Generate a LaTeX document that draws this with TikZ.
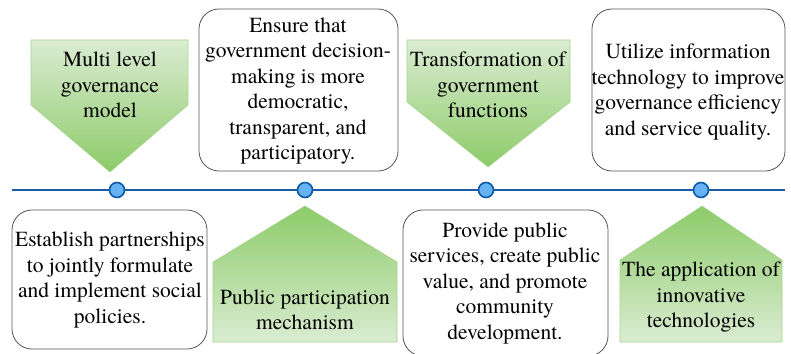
\documentclass[tikz,border=0pt]{standalone}
\usepackage{fontspec}
\IfFontExistsTF{texgyretermes-regular.otf}{\newfontfamily\tnr{texgyretermes-regular.otf}}{\newfontfamily\tnr{Liberation Serif}}
\definecolor{lineblue}{HTML}{1B5CA8}
\definecolor{dotfill}{HTML}{66B2F2}
\definecolor{dotdraw}{HTML}{0E5AA8}
\definecolor{gLight}{HTML}{DAECD2}
\definecolor{gDark}{HTML}{8DCB69}
\definecolor{gEdge}{HTML}{A9D38F}
\definecolor{boxedge}{HTML}{555555}
\begin{document}
\begin{tikzpicture}[x=1pt,y=1pt,
  txt/.style={align=center,inner sep=0pt,font=\tnr\fontsize{21.5}{25.5}\selectfont},
  rbox/.style={draw=boxedge,line width=0.8pt,rounded corners=20pt,fill=white},
  downarrow/.style={top color=gLight,bottom color=gDark,draw=gEdge,line width=0.6pt},
  uparrow/.style={top color=gDark,bottom color=gLight,draw=gEdge,line width=0.6pt},
  dot/.style={circle,draw=dotdraw,fill=dotfill,line width=1.6pt,minimum size=15pt,inner sep=0pt},
  tline/.style={draw=lineblue,line width=2.4pt}]
\useasboundingbox (0,0) rectangle (791,-353);
% top boxes
\draw[rbox] (199,-9) rectangle (398,-171);
\draw[rbox] (592,-9) rectangle (785,-171);
% bottom boxes
\draw[rbox] (12,-210) rectangle (207,-349);
\draw[rbox] (403,-210) rectangle (608,-356);
% down arrows
\path[downarrow] (31,-40) -- (188,-40) -- (188,-105) -- (110,-172) -- (31,-105) -- cycle;
\path[downarrow] (407,-40) -- (570,-40) -- (570,-102) -- (488,-167) -- (407,-102) -- cycle;
% up arrows
\path[uparrow] (305,-206) -- (397,-262) -- (397,-342) -- (213,-342) -- (213,-262) -- cycle;
\path[uparrow] (702,-206) -- (782,-260) -- (782,-342) -- (620,-342) -- (620,-260) -- cycle;
% texts
\node[txt] (t1) at (110,-85) {Multi level\\governance\\model};
\node[txt] (t2) at (298,-91) {Ensure that\\government decision-\\making is more\\democratic,\\transparent, and\\participatory.};
\node[txt] (t3) at (488,-85) {Transformation of\\government\\functions};
\node[txt] (t4) at (688,-92) {Utilize information\\technology to improve\\governance efficiency\\and service quality.};
\node[txt] (b1) at (110,-280) {Establish partnerships\\to jointly formulate\\and implement social\\policies.};
\node[txt] (b2) at (305,-310) {Public participation\\mechanism};
\node[txt] (b3) at (505,-283) {Provide public\\services, create public\\value, and promote\\community\\development.};
\node[txt] (b4) at (701,-297) {The application of\\innovative\\technologies};
% timeline
\coordinate (L) at (12,-190);
\coordinate (R) at (785,-190);
\draw[tline] (L) -- (R);
\node[dot] (c1) at (117,-190) {};
\node[dot] (c2) at (305,-190) {};
\node[dot] (c3) at (486,-190) {};
\node[dot] (c4) at (701,-190) {};
\end{tikzpicture}
\end{document}
